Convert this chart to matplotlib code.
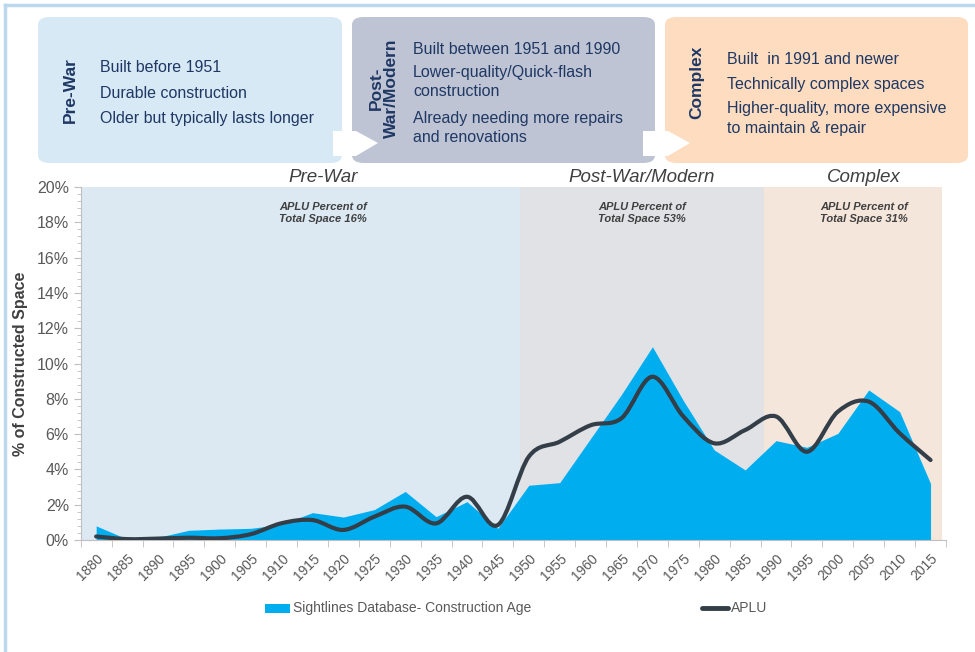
import numpy as np
import matplotlib.pyplot as plt
from matplotlib.path import Path
from matplotlib.patches import PathPatch, FancyBboxPatch, Polygon, Rectangle
from matplotlib.lines import Line2D

plt.rcParams['font.family'] = ['Liberation Sans', 'DejaVu Sans']

years = list(range(1880, 2020, 5))
sightlines = [0.80, 0.05, 0.15, 0.55, 0.62, 0.66, 0.88, 1.55, 1.30, 1.72, 2.75, 1.32, 2.17, 0.66,
              3.10, 3.25, 5.75, 8.25, 10.95, 7.90, 5.10, 3.97, 5.63, 5.25, 6.04, 8.50, 7.27, 3.20]
aplu = [0.20, 0.05, 0.08, 0.13, 0.10, 0.33, 0.95, 1.13, 0.57, 1.32, 1.89, 0.94, 2.45, 0.85,
        4.72, 5.57, 6.50, 6.90, 9.25, 7.00, 5.48, 6.23, 7.00, 5.00, 7.27, 7.84, 6.05, 4.53]

eras = ['Pre-War', 'Post-War/Modern', 'Complex']
era_share = ['16%', '53%', '31%']
era_bounds = [(-0.5, 13.72), (13.72, 21.6), (21.6, 27.37)]
era_colors = ['#dce8f2', '#e1e2e5', '#f5e6dc']

NAVY = '#1f3864'
GREY = '#595959'

fig = plt.figure(figsize=(9.75, 6.52), dpi=100)
W, H = 975, 652

def fx(px):
    return px / W

def fy(py):
    return 1 - py / H

# outer frame lines
fig.add_artist(Line2D([fx(5), fx(5)], [fy(5), 0], color='#bdd7ee', lw=2.5))
fig.add_artist(Line2D([fx(5), 1], [fy(5), fy(5)], color='#bdd7ee', lw=2.5))

# header boxes
boxes = [(38, 342, '#d6e9f5'), (352, 655, '#bfc4d4'), (665, 968, '#fddcbf')]
for x0, x1, col in boxes:
    fig.add_artist(FancyBboxPatch((fx(x0), fy(163)), fx(x1 - x0), (163 - 17) / H,
                                  boxstyle='round,pad=0,rounding_size=0.012',
                                  fc=col, ec='none', transform=fig.transFigure))
for xa, xt in [(333, 378), (643, 690)]:
    fig.add_artist(Polygon([(fx(xa), fy(131)), (fx(xt - 22), fy(131)), (fx(xt), fy(143)),
                            (fx(xt - 22), fy(156)), (fx(xa), fy(156))],
                           closed=True, fc='white', ec='none', transform=fig.transFigure))

fig.text(fx(70), fy(90), 'Pre-War', rotation=90, ha='center', va='center',
         fontsize=12.5, fontweight='bold', color=NAVY)
fig.text(fx(384), fy(88), 'Post-\nWar/Modern', rotation=90, ha='center', va='center',
         fontsize=12.5, fontweight='bold', color=NAVY, linespacing=0.95)
fig.text(fx(697), fy(82), 'Complex', rotation=90, ha='center', va='center',
         fontsize=12.5, fontweight='bold', color=NAVY)

bullets = [
    (100, [(68, 'Built before 1951'), (93, 'Durable construction'),
           (118, 'Older but typically lasts longer')]),
    (413, [(49, 'Built between 1951 and 1990'), (72, 'Lower-quality/Quick-flash'),
           (92, 'construction'), (119, 'Already needing more repairs'), (137, 'and renovations')]),
    (727, [(59, 'Built  in 1991 and newer'), (85, 'Technically complex spaces'),
           (109, 'Higher-quality, more expensive'), (128, 'to maintain & repair')]),
]
for bx, lines in bullets:
    for by, txt in lines:
        fig.text(fx(bx), fy(by), txt, ha='left', va='center', fontsize=11.5, color=NAVY)

# chart
ax = fig.add_axes([fx(80.7), fy(540), fx(946 - 80.7), (540 - 187) / H])
x = np.arange(len(years))

for (a, b), col in zip(era_bounds, era_colors):
    ax.axvspan(a, b, color=col, lw=0, zorder=0)

ax.fill_between(x, 0, sightlines, color='#00aeef', lw=0, zorder=2)

# smoothed APLU line (Catmull-Rom style bezier like spreadsheet smoothing)
pts = np.column_stack([x, aplu]).astype(float)
verts = [tuple(pts[0])]
codes = [Path.MOVETO]
n = len(pts)
for i in range(n - 1):
    p0 = pts[max(i - 1, 0)]
    p1 = pts[i]
    p2 = pts[i + 1]
    p3 = pts[min(i + 2, n - 1)]
    c1 = p1 + (p2 - p0) / 6.0
    c2 = p2 - (p3 - p1) / 6.0
    verts += [tuple(c1), tuple(c2), tuple(p2)]
    codes += [Path.CURVE4] * 3
ax.add_patch(PathPatch(Path(verts, codes), fc='none', ec='#333e48', lw=3,
                       capstyle='round', zorder=3))

ax.set_xlim(-0.5, 27.5)
ax.set_ylim(0, 20)
ax.set_xticks(x)
ax.set_xticklabels([str(yv) for yv in years], rotation=45, ha='right',
                   rotation_mode='anchor', fontsize=10, color=GREY)
ax.set_xticks(np.arange(-0.5, 28, 1), minor=True)
ax.tick_params(axis='x', which='major', length=0, pad=8)
ax.tick_params(axis='x', which='minor', length=5, color='#bfbfbf')
ax.set_yticks(np.arange(0, 21, 2))
ax.set_yticklabels([f'{v}%' for v in range(0, 21, 2)], fontsize=11.5, color=GREY)
ax.set_yticks(np.arange(0, 20.01, 0.4), minor=True)
ax.tick_params(axis='y', which='major', length=5, color='#bfbfbf')
ax.tick_params(axis='y', which='minor', length=3, color='#bfbfbf')
for s in ['top', 'right']:
    ax.spines[s].set_visible(False)
for s in ['left', 'bottom']:
    ax.spines[s].set_color('#bfbfbf')
ax.set_ylabel('% of Constructed Space', fontsize=11.5, fontweight='bold', color='#404040',
              labelpad=6)

# era labels
centers_px = [323, 642, 864]
for cx, name, share in zip(centers_px, eras, era_share):
    fig.text(fx(cx), fy(178), name, ha='center', va='center', fontsize=13.5,
             style='italic', color='#404040')
    fig.text(fx(cx), fy(213), f'APLU Percent of\nTotal Space {share}', ha='center',
             va='center', fontsize=8, style='italic', fontweight='bold',
             color='#404040', linespacing=1.2)

# legend
fig.add_artist(Rectangle((fx(265), fy(613)), fx(25), 9 / H, fc='#00aeef', ec='none',
                         transform=fig.transFigure))
fig.text(fx(293), fy(608), 'Sightlines Database- Construction Age', ha='left',
         va='center', fontsize=10, color=GREY)
fig.add_artist(Line2D([fx(702), fx(728)], [fy(608), fy(608)], color='#333e48', lw=3.5,
                      solid_capstyle='round'))
fig.text(fx(731), fy(608), 'APLU', ha='left', va='center', fontsize=10, color=GREY)

fig.savefig('out.png', dpi=100)
